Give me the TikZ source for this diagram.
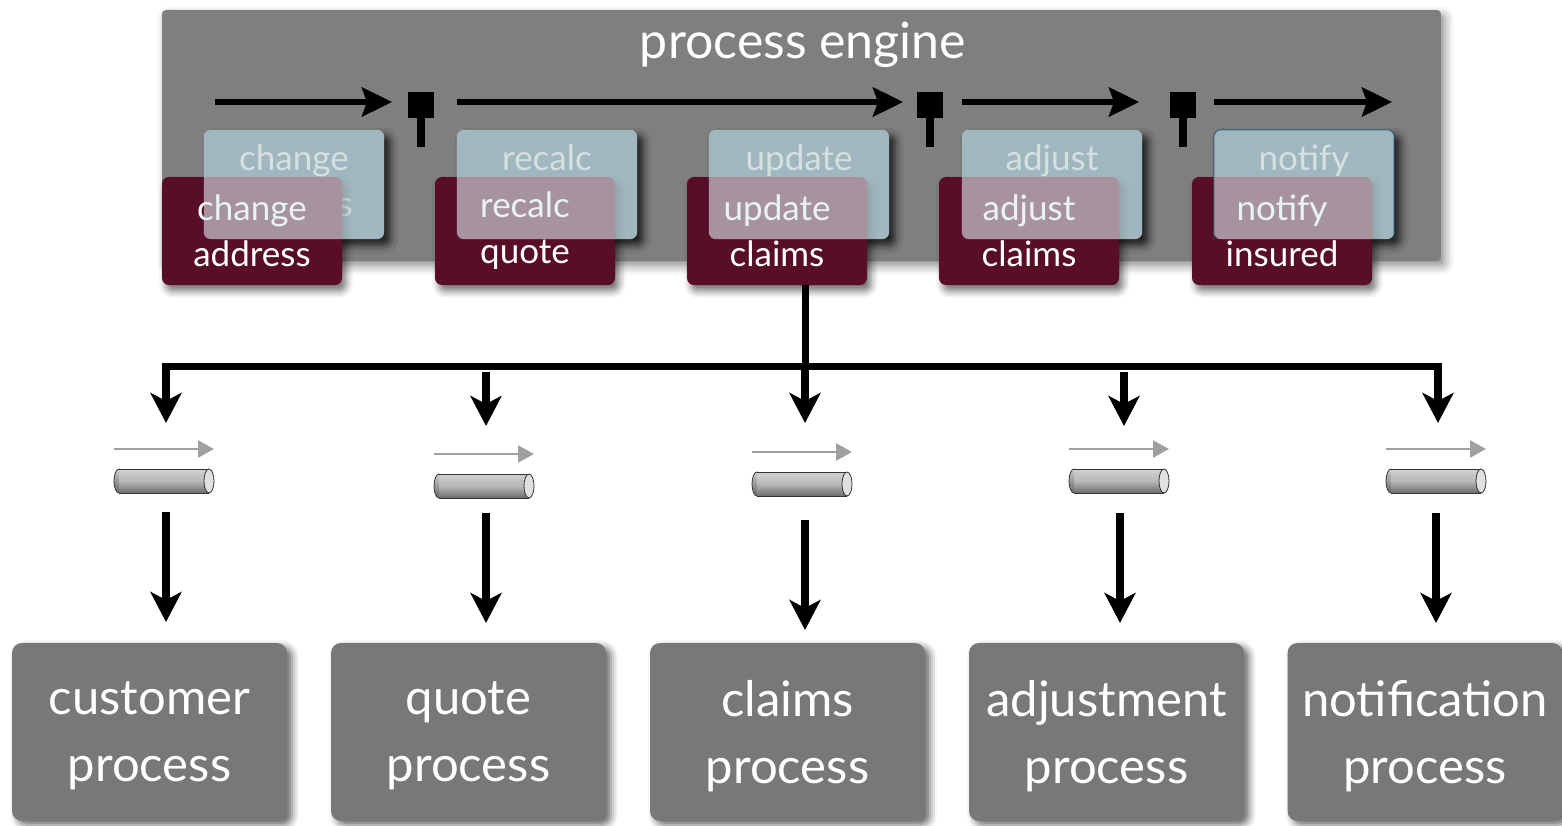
\documentclass[tikz,border=0pt]{standalone}
\usepackage{fontspec}
\setmainfont{Lato}
\usetikzlibrary{arrows.meta,shadows.blur}

\definecolor{enginegray}{RGB}{127,127,127}
\definecolor{procgray}{RGB}{120,120,120}
\definecolor{wine}{RGB}{88,14,40}
\definecolor{stepblue}{RGB}{70,105,125}
\definecolor{veil}{RGB}{220,236,236}
\definecolor{steptext}{RGB}{205,205,210}
\definecolor{chanarrow}{RGB}{160,160,160}
\definecolor{tealedge}{RGB}{25,85,105}

\begin{document}
\begin{tikzpicture}[x=1pt,y=-1pt,
  engine/.style={rectangle, fill=enginegray, rounded corners=4pt, inner sep=0pt, outer sep=0pt,
    minimum width=1279pt, minimum height=251pt,
    blur shadow={shadow xshift=4pt, shadow yshift=-5pt, shadow blur radius=9pt, shadow opacity=45}},
  titletext/.style={text=white, font=\fontsize{50}{54}\selectfont, inner sep=0pt, anchor=base},
  stepbox/.style={rectangle, fill=stepblue, rounded corners=7pt, inner sep=0pt,
    minimum width=180pt, minimum height=109pt,
    blur shadow={shadow xshift=6pt, shadow yshift=-6pt, shadow blur radius=8pt, shadow opacity=80}},
  steplabel/.style={text=steptext, font=\fontsize{35}{46}\selectfont, inner sep=0pt, anchor=base},
  winebox/.style={rectangle, fill=wine, rounded corners=7pt, inner sep=0pt,
    minimum width=180pt, minimum height=108pt, align=center, text=white,
    font=\fontsize{35}{46}\selectfont,
    blur shadow={shadow xshift=4pt, shadow yshift=-6pt, shadow blur radius=7pt, shadow opacity=55}},
  procbox/.style={rectangle, fill=procgray, rounded corners=10pt, inner sep=0pt,
    minimum width=275pt, minimum height=178pt,
    blur shadow={shadow xshift=5pt, shadow yshift=-4pt, shadow blur radius=7pt, shadow opacity=60}},
  proclabel/.style={align=center, text=white, inner sep=0pt, font=\fontsize{49}{67}\selectfont},
  flow/.style={line width=6pt, -{Stealth[length=30pt, width=29pt, inset=5pt]}},
  busline/.style={line width=7pt},
  busarrow/.style={line width=8pt, -{Stealth[length=30pt, width=31pt, inset=8pt]}},
  chan/.style={line width=2.5pt, chanarrow, -{Triangle[length=16pt, width=17pt]}},
  pipeedge/.style={draw=black!80, line width=0.8pt}
]
\useasboundingbox (0,0) rectangle (1562,825);

% the engine panel and its title
\node[engine] (engine) at (801.5,135.5) {};
\node[titletext] (title) at (803,58) {process engine};

% gates between the stages
\foreach \g/\gx in {g1/421, g2/930, g3/1183} {
  \coordinate (\g) at (\gx,105);
  \fill (\gx-13,92) rectangle (\gx+13,118);
  \fill (\gx-4,118) rectangle (\gx+4,147);
}

% flow arrows along the top
\draw[flow] (215,102) -- (392,102);
\draw[flow] (457,102) -- (903,102);
\draw[flow] (962,102) -- (1139,102);
\draw[flow] (1214,102) -- (1392,102);

% step boxes: pale step over its wine-coloured task box
\foreach \bx/\mx/\ta/\tb [count=\i] in
  {204/162/change/address, 457/435/recalc/quote, 709/687/update/claims,
   962/939/adjust/claims, 1214/1192/notify/insured} {
  \node[stepbox] (s\i) at (\bx+90,184.5) {};
  \node[steplabel] (st\i) at (\bx+90,170) {\ta};
  \ifnum\i=1
    \node[steplabel] (sb\i) at (\bx+90,216) {\tb};
  \fi
  \node[winebox] (m\i) at (\mx+90,231) {\ta\\\tb};
  \fill[veil, opacity=0.6, rounded corners=7pt] (s\i.north west) rectangle (s\i.south east);
}
\draw[tealedge, line width=1pt, rounded corners=7pt, opacity=0.8] (s5.south west) |- (s5.north east) -- (s5.south east);

% distribution bus
\coordinate (j1) at (166,366);
\coordinate (j3) at (805,366);
\coordinate (j5) at (1438,366);
\draw[busline] (m3.south -| j3) -- (j3);
\draw[busline] (162,366) -- (1442,366);
\draw[busarrow] (166,362.5) -- (166,423);
\draw[busarrow] (j3) -- (805,423);
\draw[busarrow] (1438,362.5) -- (1438,423);
\draw[busarrow] (486,372) -- (486,426);
\draw[busarrow] (1124,372) -- (1124,426);

% message channels
\foreach \cx/\cy [count=\i] in {164/481, 484/486, 802/484, 1119/481, 1436/481} {
  \coordinate (pipe\i) at (\cx,\cy);
  \draw[chan] (\cx-50,\cy-32) -- (\cx+50,\cy-32);
  \path[pipeedge, top color=black!20, bottom color=black!60] (\cx-45,\cy) ellipse [x radius=5, y radius=12];
  \shade[top color=black!18, bottom color=black!58, middle color=black!28] (\cx-45,\cy-12) rectangle (\cx+45,\cy+12);
  \draw[pipeedge] (\cx-45,\cy-12) -- (\cx+45,\cy-12) (\cx-45,\cy+12) -- (\cx+45,\cy+12);
  \path[pipeedge, fill=black!12] (\cx+45,\cy) ellipse [x radius=5, y radius=12];
}

% process boxes
\foreach \x/\a [count=\i] in {149.5/customer, 468.5/quote, 787.5/claims,
                              1106.5/adjustment, 1425/notification} {
  \node[procbox] (p\i) at (\x,732) {};
  \node[proclabel] (pl\i) at (\x,736) {\a\\process};
}

% channel to process arrows
\draw[busarrow] (166,512) -- (166,622);
\draw[busarrow] (486,513) -- (486,623);
\draw[busarrow] (805,520) -- (805,630);
\draw[busarrow] (1120,513) -- (1120,623);
\draw[busarrow] (1436,513) -- (1436,623);
\end{tikzpicture}
\end{document}
